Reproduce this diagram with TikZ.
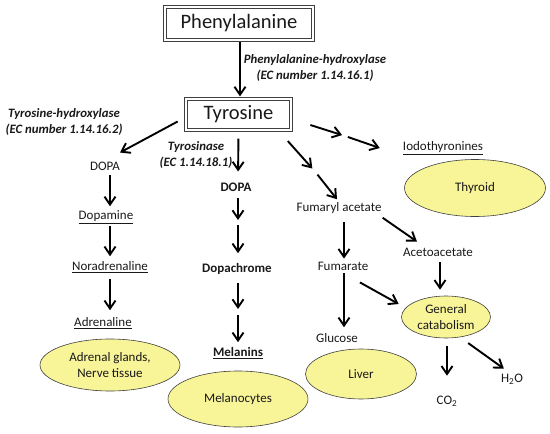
\documentclass[tikz,border=0pt]{standalone}
\usepackage{fontspec}
\setmainfont{Carlito}
\usetikzlibrary{arrows.meta,shapes.geometric}
\definecolor{OrganYellow}{RGB}{248,244,152}
\definecolor{LineGray}{RGB}{64,64,64}
\definecolor{InkDark}{RGB}{25,25,25}

\begin{document}
\begin{tikzpicture}[x=1pt,y=-1pt,text=InkDark,
  arr/.style={-{Straight Barb[length=8pt,width=11pt]},line width=1.9pt,shorten <=3pt,shorten >=3pt},
  dbox/.style={draw=LineGray,double,double distance=2.2pt,line width=0.7pt,font=\fontsize{20.5}{24}\selectfont},
  enzyme/.style={font=\fontsize{12.8}{15.5}\selectfont\bfseries\itshape,align=center,inner sep=0pt},
  compound/.style={font=\fontsize{13}{15}\selectfont,inner sep=1pt},
  product/.style={font=\fontsize{13}{15}\selectfont\bfseries,inner sep=1pt},
  organ/.style={ellipse,draw=LineGray,line width=0.6pt,fill=OrganYellow,font=\fontsize{13}{15.5}\selectfont,align=center,inner sep=0pt}]
  \useasboundingbox (0,0) rectangle (550,434);

  % main amino acids
  \node[dbox,minimum width=148pt,minimum height=33pt] (phe) at (239,23.5) {Phenylalanine};
  \node[dbox,minimum width=105pt,minimum height=31.5pt] (tyr) at (238.5,114.5) {Tyrosine};

  % enzymes
  \node[enzyme] (phehyd) at (315,68) {Phenylalanine-hydroxylase\\(EC number 1.14.16.1)};
  \node[enzyme] (tyrhyd) at (64,122) {Tyrosine-hydroxylase\\(EC number 1.14.16.2)};
  \node[enzyme] (tyrase) at (196,155) {Tyrosinase\\(EC 1.14.18.1)};

  % catecholamines
  \node[compound] (dopaL) at (105,166) {DOPA};
  \node[compound] (dopamine) at (106,217) {\underline{Dopamine}};
  \node[compound] (noradr) at (110,267) {\underline{Noradrenaline}};
  \node[compound] (adren) at (103,323) {\underline{Adrenaline}};
  \node[organ,minimum width=140pt,minimum height=52pt] (adrenal) at (110,365) {Adrenal glands,\\Nerve tissue};

  % melanins
  \node[product] (dopaM) at (236,187) {DOPA};
  \node[product] (dopachrome) at (237,269) {Dopachrome};
  \node[product] (melanins) at (238,353) {\underline{Melanins}};
  \node[organ,minimum width=140pt,minimum height=56pt] (melanocytes) at (238,399) {Melanocytes};

  % thyroid and catabolism
  \node[compound] (iodo) at (443,148) {\underline{Iodothyronines}};
  \node[organ,minimum width=141pt,minimum height=57pt] (thyroid) at (475,188) {Thyroid};
  \node[compound] (fumaryl) at (339,208) {Fumaryl acetate};
  \node[compound] (fumarate) at (343,266) {Fumarate};
  \node[compound] (glucose) at (337,338) {Glucose};
  \node[organ,minimum width=111pt,minimum height=50pt] (liver) at (361,374) {Liver};
  \node[compound] (aceto) at (438,252) {Acetoacetate};
  \node[organ,minimum width=89pt,minimum height=42pt] (general) at (446,317) {General\\catabolism};
  \node[compound] (co2) at (447,401) {CO\textsubscript{2}};
  \node[compound] (h2o) at (512,379) {H\textsubscript{2}O};

  % gaps of the split arrows
  \coordinate (dm1) at (238,222.5);
  \coordinate (dm2) at (238,312);
  \coordinate (ti) at (345,136);
  \coordinate (tf) at (315,171.5);

  \draw[arr,shorten <=2pt,shorten >=2pt] ([xshift=1pt]phe.south) -- ([xshift=1.5pt]tyr.north);

  \draw[arr,shorten <=0pt,shorten >=0pt] ([xshift=-8pt,yshift=-7pt]tyr.west) -- ([xshift=15pt,yshift=8pt]dopaL.north);
  \draw[arr,shorten <=4pt] ([xshift=5pt]dopaL.south) -- ([xshift=4pt]dopamine.north);
  \draw[arr,shorten <=1pt,shorten >=4pt] ([xshift=4pt]dopamine.south) -- (noradr.north);
  \draw[arr,shorten <=5pt,shorten >=6pt] (noradr.south) -- ([xshift=7pt]adren.north);

  \draw[arr,shorten <=8pt,shorten >=10pt] (tyr.south) -- ([xshift=2pt]dopaM.north);
  \draw[arr,shorten <=5pt,shorten >=2.5pt] ([xshift=2pt]dopaM.south) -- (dm1);
  \draw[arr,shorten <=2.5pt,shorten >=9pt] (dm1) -- ([xshift=1pt]dopachrome.north);
  \draw[arr,shorten <=7pt,shorten >=3pt] ([xshift=1pt]dopachrome.south) -- (dm2);
  \draw[arr,shorten <=3pt,shorten >=4pt] (dm2) -- (melanins.north);

  \draw[arr,shorten <=0pt,shorten >=3pt] ([xshift=19pt,yshift=-10.5pt]tyr.east) -- (ti);
  \draw[arr,shorten <=3pt,shorten >=0pt] (ti) -- ([xshift=-22pt]iodo.west);
  \draw[arr,shorten <=0pt,shorten >=4pt] ([xshift=-3.5pt,yshift=-10.5pt]tyr.south east) -- (tf);
  \draw[arr,shorten <=4pt,shorten >=0pt] (tf) -- ([xshift=-2pt,yshift=2pt]fumaryl.north);

  \draw[arr,shorten <=7pt,shorten >=2pt] ([xshift=5pt]fumaryl.south) -- ([xshift=1pt]fumarate.north);
  \draw[arr,shorten <=2pt,shorten >=5pt] ([xshift=1pt]fumarate.south) -- ([xshift=7pt]glucose.north);
  \draw[arr,shorten <=0pt,shorten >=0pt] ([yshift=-3pt]fumaryl.south east) -- ([xshift=-21pt,yshift=5pt]aceto.north);
  \draw[arr,shorten <=5pt,shorten >=6pt] ([xshift=2pt]aceto.south) -- ([xshift=-6pt]general.north);
  \draw[arr,shorten <=0pt,shorten >=0pt] ([xshift=-9.5pt,yshift=-11pt]fumarate.south east) -- ([xshift=-2.5pt,yshift=13pt]general.west);
  \draw[arr,shorten <=8pt,shorten >=19pt] ([xshift=1pt]general.south) -- (co2.north);
  \draw[arr,shorten <=0pt,shorten >=0pt] ([xshift=-9.5pt,yshift=-11pt]general.south east) -- ([xshift=4pt,yshift=4pt]h2o.north west);
\end{tikzpicture}
\end{document}
